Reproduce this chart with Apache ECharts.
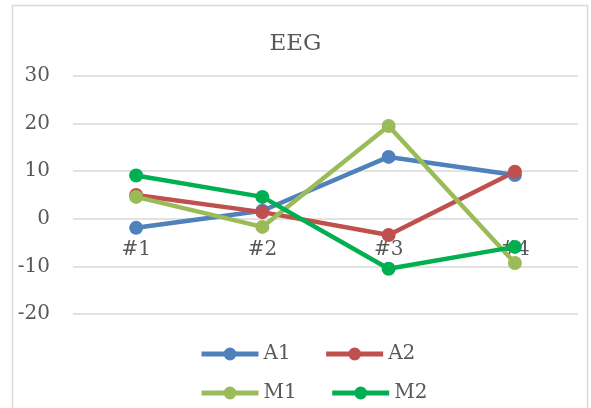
<!DOCTYPE html>
<html>
<head>
<meta charset="utf-8">
<script src="https://cdn.jsdelivr.net/npm/echarts@6/dist/echarts.min.js"></script>
<style>
  html, body { margin: 0; padding: 0; background: #fff; }
  #chart { width: 591px; height: 408px; }
</style>
</head>
<body>
<div id="chart"></div>
<script>
// data
var categories = ['#1', '#2', '#3', '#4'];
var a1 = [-1.9, 1.7, 13.0, 9.2];
var a2 = [5.0, 1.4, -3.4, 9.9];
var m1 = [4.6, -1.7, 19.5, -9.3];
var m2 = [9.1, 4.6, -10.5, -5.9];
var yTicks = { min: -20, max: 30, step: 10 };

var font = 'DejaVu Serif';
var textColor = '#595959';

var myChart = echarts.init(document.getElementById('chart'));

function line(name, data, color) {
  return {
    name: name,
    type: 'line',
    data: data,
    symbol: 'circle',
    symbolSize: 14,
    lineStyle: { width: 4.5, color: color },
    itemStyle: { color: color },
    emphasis: { disabled: true }
  };
}

var legendBase = {
  left: 194,
  itemWidth: 57,
  itemHeight: 16,
  itemGap: 33,
  lineStyle: { width: 5 },
  textStyle: { fontFamily: font, fontSize: 20, color: textColor }
};

var option = {
  animation: false,
  graphic: [{
    type: 'rect',
    shape: { x: 12.5, y: 5.5, width: 575, height: 420 },
    style: { fill: 'none', stroke: '#d9d9d9', lineWidth: 1.5 },
    silent: true
  }],
  title: {
    text: 'EEG',
    left: 'center',
    top: 28,
    textStyle: { fontFamily: font, fontSize: 23, fontWeight: 'normal', color: textColor }
  },
  legend: [
    Object.assign({ top: 339, data: ['A1', 'A2'] }, legendBase),
    Object.assign({ top: 378, data: ['M1', 'M2'] }, legendBase)
  ],
  grid: { left: 73, right: 13, top: 76, bottom: 94 },
  xAxis: {
    type: 'category',
    data: categories,
    position: 'bottom',
    offset: -95,   // sits on the 0 line, like the original
    axisLine: { show: false, onZero: false },
    axisTick: { show: false },
    axisLabel: { margin: 21, fontFamily: font, fontSize: 20, color: textColor }
  },
  yAxis: {
    type: 'value',
    min: yTicks.min,
    max: yTicks.max,
    interval: yTicks.step,
    axisLine: { show: false },
    axisTick: { show: false },
    axisLabel: { margin: 23, fontFamily: font, fontSize: 20, color: textColor },
    splitLine: { lineStyle: { color: '#d9d9d9', width: 1.5 } }
  },
  series: [
    line('A1', a1, '#4F81BD'),
    line('A2', a2, '#C0504D'),
    line('M1', m1, '#9BBB59'),
    line('M2', m2, '#00B050')
  ]
};

myChart.setOption(option);
</script>
</body>
</html>
